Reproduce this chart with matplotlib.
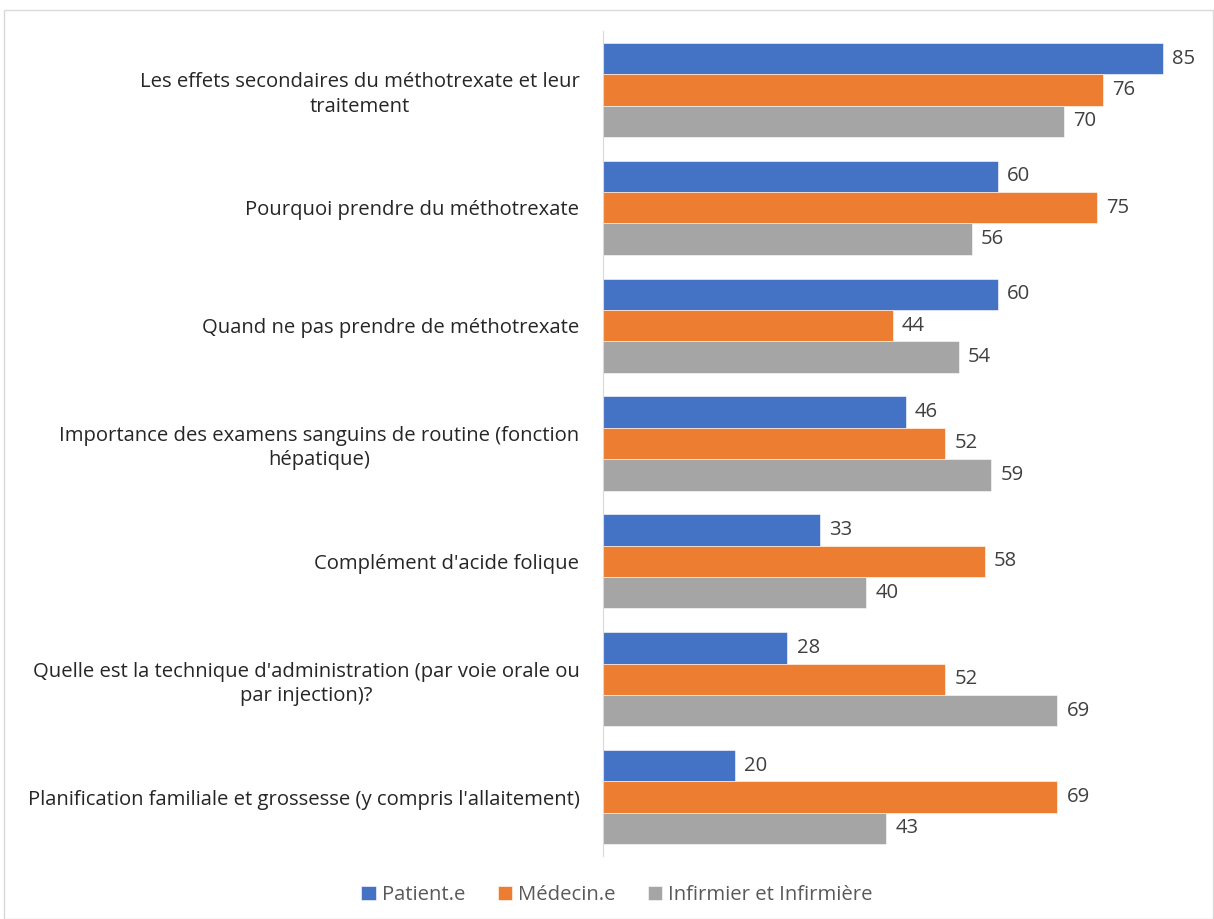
import matplotlib.pyplot as plt
from matplotlib.patches import Rectangle
import numpy as np

categories = [
    "Les effets secondaires du méthotrexate et leur\ntraitement",
    "Pourquoi prendre du méthotrexate",
    "Quand ne pas prendre de méthotrexate",
    "Importance des examens sanguins de routine (fonction\nhépatique)",
    "Complément d'acide folique",
    "Quelle est la technique d'administration (par voie orale ou\npar injection)?",
    "Planification familiale et grossesse (y compris l'allaitement)",
]
patient = [85, 60, 60, 46, 33, 28, 20]
medecin = [76, 75, 44, 52, 58, 52, 69]
infirmier = [70, 56, 54, 59, 40, 69, 43]
series_names = ["Patient.e", "Médecin.e", "Infirmier et Infirmière"]
colors = ["#4472C4", "#ED7D31", "#A5A5A5"]

plt.rcParams['font.family'] = ['Open Sans', 'DejaVu Sans']
text_color = "#404040"
fs = 14.6

fig = plt.figure(figsize=(12.14, 9.19), dpi=100)
ax = fig.add_axes([603 / 1214, 1 - 856 / 919, (1210 - 603) / 1214, (856 - 31) / 919])

y = np.arange(len(categories))
h = 0.266
for i, (vals, name, col) in enumerate(zip([patient, medecin, infirmier], series_names, colors)):
    pos = y + (i - 1) * h
    ax.barh(pos, vals, height=h, color=col, label=name, edgecolor="white", linewidth=0.4)
    for p, v in zip(pos, vals):
        ax.text(v + 1.4, p, str(v), va="center", ha="left", fontsize=fs, color=text_color)

ax.set_xlim(0, 92.2)
ax.set_ylim(6.5, -0.5)
ax.set_xticks([])
ax.set_yticks(y)
ax.set_yticklabels(categories, fontsize=fs, color="#262626", multialignment="center", linespacing=1.3)
ax.tick_params(axis="y", length=0, pad=17)
for s in ["top", "right", "bottom"]:
    ax.spines[s].set_visible(False)
ax.spines["left"].set_color("#D9D9D9")

leg = fig.legend(loc="center", bbox_to_anchor=(617 / 1214, 1 - 895 / 919), ncol=3, frameon=False,
                 fontsize=fs, handlelength=0.7, handleheight=0.7, handletextpad=0.3, columnspacing=1.6)
for t in leg.get_texts():
    t.set_color("#595959")

fig.patches.append(Rectangle((4 / 1214, 0), 1 - 4 / 1214 - 0.0005, 1 - 10 / 919, transform=fig.transFigure,
                             fill=False, edgecolor="#D9D9D9", linewidth=1))

fig.savefig("out.png", dpi=100)
